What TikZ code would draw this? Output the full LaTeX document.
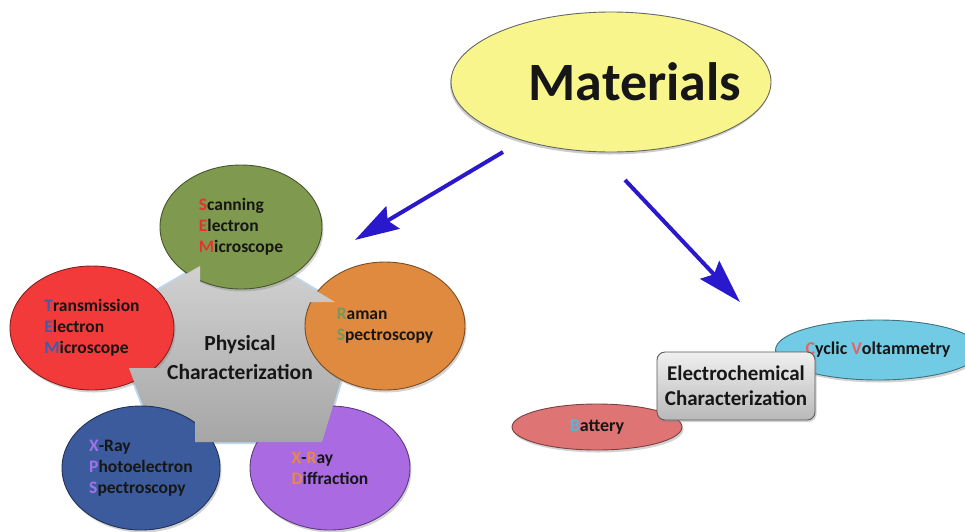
\documentclass[tikz,border=0pt]{standalone}
\usepackage{fontspec}
\setmainfont{Carlito}
\usepackage{xcolor}
\usepackage{tikz}
\usetikzlibrary{shapes.geometric,positioning,arrows.meta,shadows}
\definecolor{inkdark}{HTML}{161616}
\definecolor{matyellow}{HTML}{F8F58C}
\definecolor{semgreen}{HTML}{7F9A4E}
\definecolor{ramanorange}{HTML}{E08A40}
\definecolor{temred}{HTML}{F23A3A}
\definecolor{xpsblue}{HTML}{3C5B9C}
\definecolor{xrdpurple}{HTML}{A96AE2}
\definecolor{pentlight}{HTML}{D6D6D6}
\definecolor{pentdark}{HTML}{A6A6A6}
\definecolor{pentglow}{HTML}{BCD6EE}
\definecolor{arrowblue}{HTML}{2A18CC}
\definecolor{battred}{HTML}{DE7474}
\definecolor{cvblue}{HTML}{72CBE4}
\definecolor{semletter}{HTML}{E83232}
\definecolor{ramanletter}{HTML}{6F9A5C}
\definecolor{temletter}{HTML}{3E5CAA}
\definecolor{xpsletter}{HTML}{A272EA}
\definecolor{xrdletter}{HTML}{E8893E}
\definecolor{battletter}{HTML}{5AB4D8}
\definecolor{cvletter}{HTML}{E86262}
\newcommand{\ini}[2]{\textcolor{#1}{#2}}

\begin{document}
\begin{tikzpicture}[x=1pt, y=-1pt,
  bubble/.style={ellipse, fill=#1, draw=#1!55!black, line width=0.9pt, inner sep=0pt,
    align=left, text=inkdark, font=\fontsize{17.5}{21}\selectfont\bfseries,
    drop shadow={shadow xshift=1.5pt, shadow yshift=-2.5pt, opacity=0.35}},
  pentshade/.style={top color=pentlight, bottom color=pentdark},
  bluearrow/.style={draw=arrowblue, line width=4pt, -{Stealth[length=44pt, width=26pt, inset=6pt]}},
  txt/.style={text=inkdark, align=center}]
  \useasboundingbox (0,0) rectangle (965,531);

  % Pentagon in the middle
  \coordinate (p1) at (238,244);
  \coordinate (p2) at (360,317);
  \coordinate (p3) at (322,442);
  \coordinate (p4) at (157,442);
  \coordinate (p5) at (110,318);
  \draw[pentglow, line width=4pt, line join=round] (p1) -- (p2) -- (p3) -- (p4) -- (p5) -- cycle;
  \shade[pentshade] (p1) -- (p2) -- (p3) -- (p4) -- (p5) -- cycle;

  % Circles round the pentagon
  \node[bubble=semgreen, minimum width=162pt, minimum height=124pt] (sem) at (241,227)
    {\ini{semletter}{S}canning\\\ini{semletter}{E}lectron\\\ini{semletter}{M}icroscope};
  \node[bubble=ramanorange, minimum width=160pt, minimum height=128pt] (raman) at (385,326)
    {\ini{ramanletter}{R}aman\\\ini{ramanletter}{S}pectroscopy};
  \node[bubble=temred, minimum width=164pt, minimum height=124pt] (tem) at (92,328)
    {\ini{temletter}{T}ransmission\\\ini{temletter}{E}lectron\\\ini{temletter}{M}icroscope};
  \node[bubble=xpsblue, minimum width=158pt, minimum height=124pt] (xps) at (141,468)
    {\ini{xpsletter}{X}-Ray\\\ini{xpsletter}{P}hotoelectron\\\ini{xpsletter}{S}pectroscopy};
  \node[bubble=xrdpurple, minimum width=160pt, minimum height=124pt] (xrd) at (330,468)
    {\ini{xrdletter}{X}-\ini{xrdletter}{R}ay\\\ini{xrdletter}{D}iffraction};

  % Notches where the pentagon cuts into the circles
  \begin{scope}
    \clip (p1) -- (p2) -- (p3) -- (p4) -- (p5) -- cycle;
    \clip (165,250) rectangle (200,300)
          (300,255) rectangle (370,302)
          (195,395) rectangle (350,450)
          (100,368) rectangle (185,400);
    \shade[pentshade] (p1) -- (p2) -- (p3) -- (p4) -- (p5) -- cycle;
  \end{scope}
  \node[txt, font=\fontsize{21.5}{29}\selectfont\bfseries] (phys) at (240,358) {Physical\\Characterization};

  % Materials
  \node[ellipse, fill=matyellow, draw=black!60, line width=0.9pt, minimum width=320pt,
    minimum height=140pt, drop shadow={shadow xshift=-1pt, shadow yshift=-2.5pt, opacity=0.4}] (mat) at (611,82) {};
  \node[txt, font=\fontsize{54}{60}\selectfont\bfseries] (mattext) at ([xshift=24pt]mat.center) {Materials};

  % Arrows
  \coordinate (a1s) at (503,152);
  \coordinate (a1e) at (355,240);
  \coordinate (a2s) at (625,180);
  \coordinate (a2e) at (740,302);
  \draw[bluearrow] (a1s) -- (a1e);
  \draw[bluearrow] (a2s) -- (a2e);

  % Electrochemical group
  \node[bubble=battred, minimum width=170pt, minimum height=46pt] (batt) at (597,427)
    {\fontsize{18}{21}\selectfont\ini{battletter}{B}attery};
  \node[bubble=cvblue, minimum width=176pt, minimum height=60pt] (cv) at (878,350)
    {\fontsize{18}{21}\selectfont\ini{cvletter}{C}yclic \ini{cvletter}{V}oltammetry};
  \node[txt, font=\fontsize{21}{25}\selectfont\bfseries, rounded corners=8pt, draw=black!65,
    line width=0.9pt, top color=gray!12, bottom color=gray!55, minimum width=158pt,
    minimum height=68pt, inner sep=0pt,
    drop shadow={shadow xshift=1.5pt, shadow yshift=-2pt, opacity=0.35}] (echem) at (736,386)
    {Electrochemical\\Characterization};
\end{tikzpicture}
\end{document}
